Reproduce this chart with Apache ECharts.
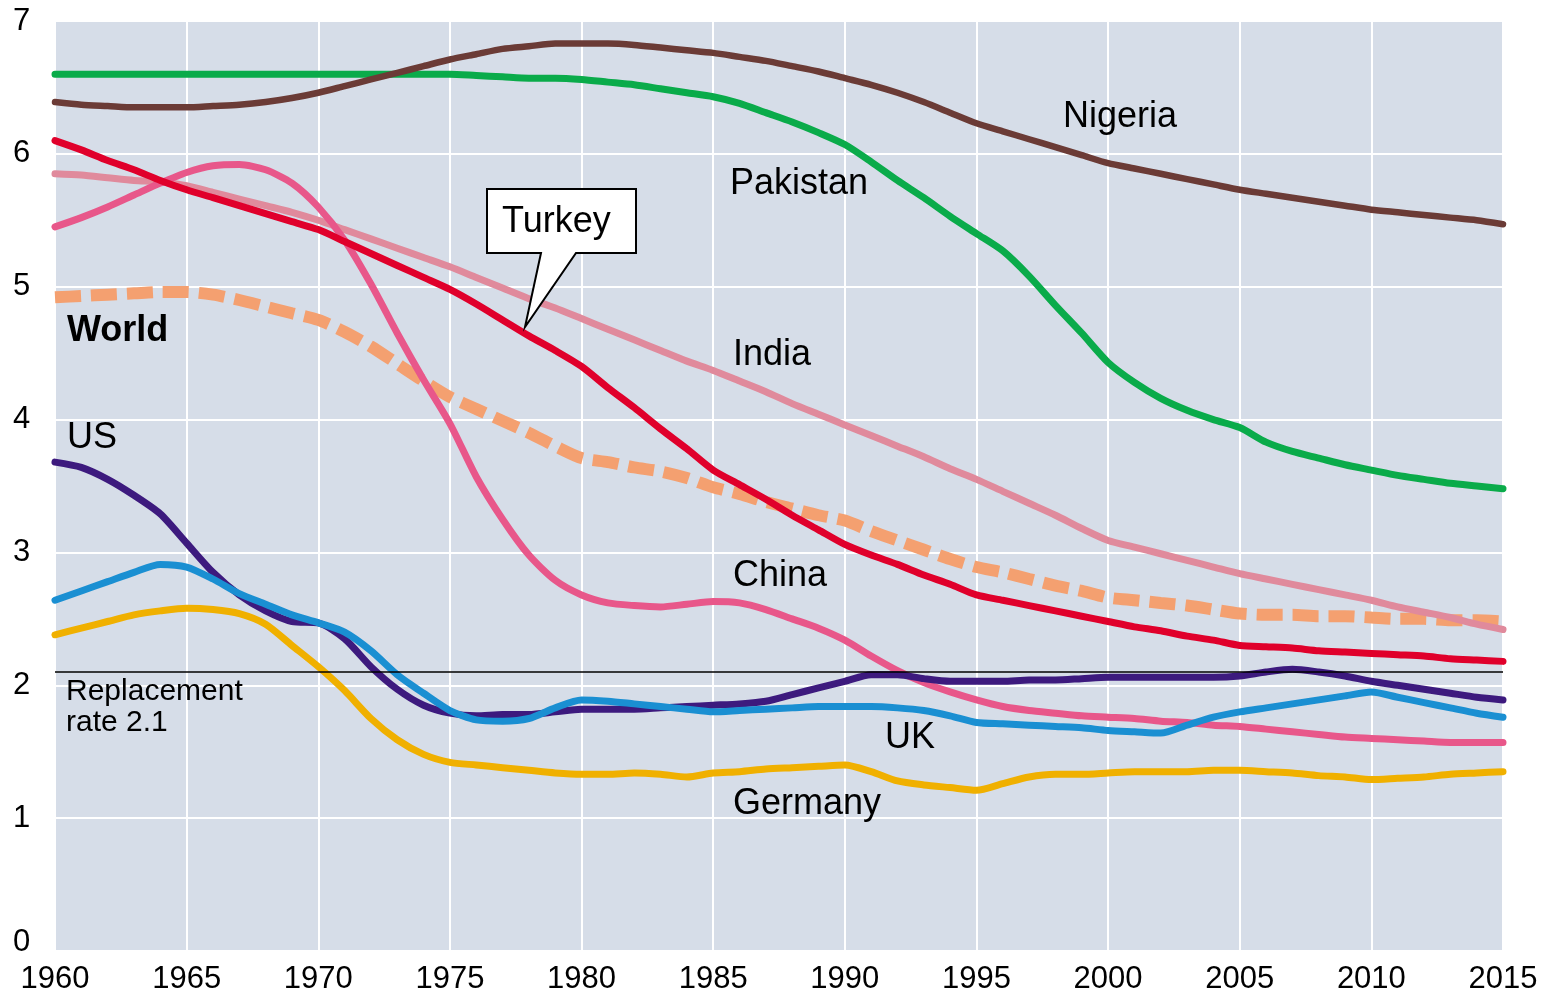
<!DOCTYPE html>
<html>
<head>
<meta charset="utf-8">
<script src="https://cdn.jsdelivr.net/npm/echarts@6/dist/echarts.min.js"></script>
<style>
  html, body { margin: 0; padding: 0; background: #fff; }
  #chart { width: 1555px; height: 996px; }
</style>
</head>
<body>
<div id="chart"></div>
<script>
// years on the x axis
var years = [1960, 1961, 1962, 1963, 1964, 1965, 1966, 1967, 1968, 1969,
  1970, 1971, 1972, 1973, 1974, 1975, 1976, 1977, 1978, 1979,
  1980, 1981, 1982, 1983, 1984, 1985, 1986, 1987, 1988, 1989,
  1990, 1991, 1992, 1993, 1994, 1995, 1996, 1997, 1998, 1999,
  2000, 2001, 2002, 2003, 2004, 2005, 2006, 2007, 2008, 2009,
  2010, 2011, 2012, 2013, 2014, 2015];

// fertility rate, births per woman
var nigeria = [6.39, 6.37, 6.36, 6.35, 6.35, 6.35, 6.36, 6.37, 6.39, 6.42,
  6.46, 6.51, 6.56, 6.61, 6.66, 6.71, 6.75, 6.79, 6.81, 6.83,
  6.83, 6.83, 6.82, 6.80, 6.78, 6.76, 6.73, 6.70, 6.66, 6.62,
  6.57, 6.52, 6.46, 6.39, 6.31, 6.23, 6.17, 6.11, 6.05, 5.99,
  5.93, 5.89, 5.85, 5.81, 5.77, 5.73, 5.70, 5.67, 5.64, 5.61,
  5.58, 5.56, 5.54, 5.52, 5.50, 5.47];
var pakistan = [6.60, 6.60, 6.60, 6.60, 6.60, 6.60, 6.60, 6.60, 6.60, 6.60,
  6.60, 6.60, 6.60, 6.60, 6.60, 6.60, 6.59, 6.58, 6.57, 6.57,
  6.56, 6.54, 6.52, 6.49, 6.46, 6.43, 6.38, 6.31, 6.24, 6.16,
  6.07, 5.94, 5.80, 5.67, 5.53, 5.40, 5.27, 5.08, 4.86, 4.65,
  4.43, 4.28, 4.16, 4.07, 4.00, 3.94, 3.83, 3.76, 3.71, 3.66,
  3.62, 3.58, 3.55, 3.52, 3.50, 3.48];
var turkey = [6.10, 6.03, 5.95, 5.88, 5.80, 5.73, 5.67, 5.61, 5.55, 5.49,
  5.43, 5.34, 5.25, 5.16, 5.07, 4.98, 4.87, 4.75, 4.63, 4.52,
  4.40, 4.24, 4.09, 3.93, 3.78, 3.62, 3.51, 3.40, 3.28, 3.17,
  3.06, 2.98, 2.91, 2.83, 2.76, 2.68, 2.64, 2.60, 2.56, 2.52,
  2.48, 2.44, 2.41, 2.37, 2.34, 2.30, 2.29, 2.28, 2.26, 2.25,
  2.24, 2.23, 2.22, 2.20, 2.19, 2.18];
var india = [5.85, 5.84, 5.82, 5.80, 5.79, 5.76, 5.71, 5.66, 5.61, 5.56,
  5.50, 5.43, 5.36, 5.29, 5.22, 5.15, 5.07, 4.99, 4.91, 4.84,
  4.76, 4.68, 4.60, 4.52, 4.44, 4.37, 4.29, 4.21, 4.12, 4.04,
  3.96, 3.88, 3.80, 3.72, 3.63, 3.55, 3.46, 3.37, 3.28, 3.18,
  3.09, 3.04, 2.99, 2.94, 2.89, 2.84, 2.80, 2.76, 2.72, 2.68,
  2.64, 2.59, 2.55, 2.51, 2.46, 2.42];
var china = [5.45, 5.52, 5.60, 5.69, 5.78, 5.86, 5.91, 5.92, 5.88, 5.78,
  5.60, 5.35, 5.02, 4.65, 4.30, 3.97, 3.57, 3.25, 2.98, 2.79,
  2.68, 2.62, 2.60, 2.59, 2.61, 2.63, 2.62, 2.57, 2.50, 2.43,
  2.34, 2.22, 2.11, 2.02, 1.95, 1.89, 1.84, 1.81, 1.79, 1.77,
  1.76, 1.75, 1.73, 1.72, 1.70, 1.69, 1.67, 1.65, 1.63, 1.61,
  1.60, 1.59, 1.58, 1.57, 1.57, 1.57];
var world = [4.92, 4.93, 4.94, 4.95, 4.96, 4.96, 4.94, 4.90, 4.85, 4.80,
  4.75, 4.66, 4.55, 4.42, 4.29, 4.17, 4.08, 3.99, 3.90, 3.80,
  3.71, 3.68, 3.64, 3.61, 3.56, 3.49, 3.44, 3.38, 3.33, 3.28,
  3.24, 3.16, 3.09, 3.02, 2.95, 2.89, 2.85, 2.80, 2.75, 2.71,
  2.66, 2.64, 2.62, 2.60, 2.57, 2.54, 2.53, 2.53, 2.52, 2.52,
  2.51, 2.50, 2.50, 2.49, 2.49, 2.48];
var us = [3.68, 3.64, 3.55, 3.43, 3.29, 3.07, 2.85, 2.68, 2.56, 2.48,
  2.47, 2.35, 2.14, 1.97, 1.85, 1.79, 1.77, 1.78, 1.78, 1.80,
  1.82, 1.82, 1.82, 1.83, 1.84, 1.85, 1.86, 1.88, 1.93, 1.98,
  2.03, 2.08, 2.08, 2.05, 2.03, 2.03, 2.03, 2.04, 2.04, 2.05,
  2.06, 2.06, 2.06, 2.06, 2.06, 2.07, 2.10, 2.12, 2.10, 2.07,
  2.03, 2.00, 1.97, 1.94, 1.91, 1.89];
var uk = [2.64, 2.71, 2.78, 2.85, 2.91, 2.89, 2.80, 2.69, 2.61, 2.53,
  2.47, 2.40, 2.26, 2.08, 1.94, 1.81, 1.74, 1.73, 1.75, 1.83,
  1.89, 1.88, 1.86, 1.84, 1.82, 1.80, 1.81, 1.82, 1.83, 1.84,
  1.84, 1.84, 1.83, 1.81, 1.77, 1.72, 1.71, 1.70, 1.69, 1.68,
  1.66, 1.65, 1.64, 1.70, 1.76, 1.80, 1.83, 1.86, 1.89, 1.92,
  1.95, 1.91, 1.87, 1.83, 1.79, 1.76];
var germany = [2.38, 2.43, 2.48, 2.53, 2.56, 2.58, 2.57, 2.54, 2.46, 2.30,
  2.14, 1.96, 1.75, 1.59, 1.48, 1.42, 1.40, 1.38, 1.36, 1.34,
  1.33, 1.33, 1.34, 1.33, 1.31, 1.34, 1.35, 1.37, 1.38, 1.39,
  1.40, 1.35, 1.28, 1.25, 1.23, 1.21, 1.26, 1.31, 1.33, 1.33,
  1.34, 1.35, 1.35, 1.35, 1.36, 1.36, 1.35, 1.34, 1.32, 1.31,
  1.29, 1.30, 1.31, 1.33, 1.34, 1.35];

var replacementRate = 2.1;

var FONT = '"Liberation Sans", Arial, Helvetica, sans-serif';

function pairs(vals) {
  return years.map(function (y, i) { return [y, vals[i]]; });
}

function line(name, vals, color, width, extra) {
  var s = {
    name: name,
    type: 'line',
    symbol: 'none',
    silent: true,
    smooth: 0.25,
    data: pairs(vals),
    lineStyle: { color: color, width: width, cap: 'round', join: 'round' },
    z: 2
  };
  if (extra) {
    for (var k in extra) s[k] = extra[k];
  }
  return s;
}

// label texts placed on the plot, x = left edge, y = vertical centre
function label(text, x, y, opts) {
  opts = opts || {};
  return {
    type: 'text',
    x: x,
    y: y,
    z: 100,
    style: {
      text: text,
      fill: '#000',
      font: (opts.weight || 'normal') + ' ' + (opts.size || 36) + 'px ' + FONT,
      align: 'left',
      verticalAlign: 'middle',
      lineHeight: opts.lineHeight
    }
  };
}

var chart = echarts.init(document.getElementById('chart'));

var option = {
  animation: false,
  backgroundColor: '#ffffff',
  grid: {
    left: 55,
    right: 52,
    top: 21,
    bottom: 45,
    show: true,
    backgroundColor: '#d6dde8',
    borderWidth: 0
  },
  xAxis: {
    type: 'value',
    min: 1960,
    max: 2015,
    interval: 5,
    axisLine: { show: false },
    axisTick: { show: false },
    splitLine: { show: true, lineStyle: { color: '#ffffff', width: 2 } },
    axisLabel: {
      color: '#000',
      fontSize: 31,
      fontFamily: FONT,
      margin: 13,
      formatter: function (v) { return String(v); }
    }
  },
  yAxis: {
    type: 'value',
    min: 0,
    max: 7,
    interval: 1,
    axisLine: { show: false },
    axisTick: { show: false },
    splitLine: { show: true, lineStyle: { color: '#ffffff', width: 2 } },
    axisLabel: {
      color: '#000',
      fontSize: 31,
      fontFamily: FONT,
      align: 'left',
      margin: 42,
      // the zero label sits a little above its line in the original
      formatter: function (v) { return v === 0 ? '{z|0}' : String(v); },
      rich: { z: { fontSize: 31, fontFamily: FONT, color: '#000', padding: [0, 0, 18, 0] } }
    }
  },
  series: [
    line('World', world, '#f4a070', 12, {
      lineStyle: { color: '#f4a070', width: 12, type: [26, 10], cap: 'butt' },
      z: 1
    }),
    line('India', india, '#e08a9c', 7),
    line('China', china, '#e8578a', 7),
    line('Germany', germany, '#f0b000', 7, {
      markLine: {
        silent: true,
        symbol: ['none', 'none'],
        label: { show: false },
        lineStyle: { color: '#000', width: 1.5, type: 'solid' },
        data: [{ yAxis: replacementRate }],
        z: 3
      }
    }),
    line('US', us, '#3d1a7e', 7),
    line('UK', uk, '#1a8fd2', 7),
    line('Pakistan', pakistan, '#0aab4a', 7),
    line('Nigeria', nigeria, '#6b3b36', 6.5),
    line('Turkey', turkey, '#e0002b', 7, { z: 4 })
  ],
  graphic: [
    label('Nigeria', 1063, 117),
    label('Pakistan', 730, 184),
    label('India', 733, 355),
    label('China', 733, 576),
    label('UK', 885, 738),
    label('Germany', 733, 804),
    label('US', 67, 438),
    label('World', 67, 331, { weight: 'bold' }),
    label('Replacement\nrate 2.1', 66, 707, { size: 30, lineHeight: 31 }),
    {
      type: 'polygon',
      z: 90,
      shape: {
        points: [[487, 189], [636, 189], [636, 253], [576, 253],
          [525, 327], [541, 253], [487, 253]]
      },
      style: { fill: '#ffffff', stroke: '#000', lineWidth: 2 }
    },
    label('Turkey', 502, 222)
  ]
};

chart.setOption(option);
</script>
</body>
</html>
